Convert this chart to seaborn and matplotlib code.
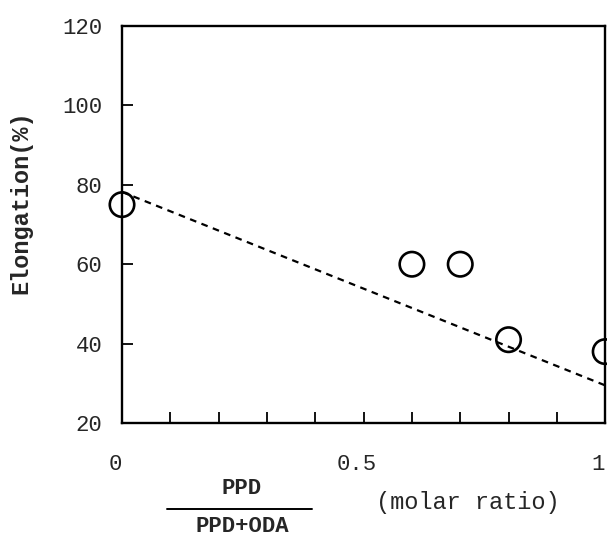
import numpy as np
import matplotlib
matplotlib.use("Agg")
import matplotlib.pyplot as plt
import matplotlib.transforms as mtransforms
from matplotlib.ticker import MultipleLocator, FixedLocator
import seaborn as sns

# measured points
ratio = [0.0, 0.6, 0.7, 0.8, 1.0]
elongation = [75, 60, 60, 41, 38]

# dashed trend line
fit_x = [0.0, 1.0]
fit_y = [78.2, 29.5]

sns.set_style("ticks")
plt.rcParams['font.family'] = ['Liberation Mono', 'DejaVu Sans Mono']

fig = plt.figure(figsize=(6.07, 5.39), dpi=100)
ax = fig.add_axes([0.201, 0.215, 0.796, 0.737])

sns.lineplot(x=fit_x, y=fit_y, ax=ax, color="black", linestyle=(0, (3, 2.5)),
             linewidth=1.6)
sns.scatterplot(x=ratio, y=elongation, ax=ax, marker="o", s=310,
                facecolor="none", edgecolor="black", linewidth=1.9,
                clip_on=False, zorder=5)

ax.set_xlim(0, 1)
ax.set_ylim(20, 120)
ax.xaxis.set_major_locator(FixedLocator([0, 0.5, 1]))
ax.xaxis.set_minor_locator(MultipleLocator(0.1))
ax.set_xticklabels(["0", "0.5", "1"])
ax.yaxis.set_major_locator(MultipleLocator(20))

ax.tick_params(axis="both", which="both", direction="in", length=8,
               width=1.3, labelsize=16, color="black")
ax.tick_params(axis="x", pad=22)
ax.tick_params(axis="y", pad=14)
for s in ax.spines.values():
    s.set_linewidth(1.7)
    s.set_color("black")

# shift x tick labels a little to the left like the original
off = mtransforms.ScaledTranslation(-7 / 100, 0, fig.dpi_scale_trans)
for lab in ax.get_xticklabels():
    lab.set_transform(lab.get_transform() + off)

ax.set_ylabel("Elongation(%)", fontsize=17, fontweight="bold")
ax.yaxis.set_label_coords(-0.185, 0.555)

# x label as a fraction
fig.text(242 / 607, 1 - 489 / 539, "PPD", ha="center", va="center",
         fontsize=16, fontweight="bold")
fig.text(242 / 607, 1 - 526 / 539, "PPD+ODA", ha="center", va="center",
         fontsize=16, fontweight="bold")
fig.add_artist(plt.Line2D([167 / 607, 312 / 607], [1 - 509 / 539, 1 - 509 / 539],
                          color="black", linewidth=1.4))
fig.text(468 / 607, 1 - 503 / 539, "(molar ratio)", ha="center", va="center",
         fontsize=17)

fig.savefig("out.png", dpi=100)
